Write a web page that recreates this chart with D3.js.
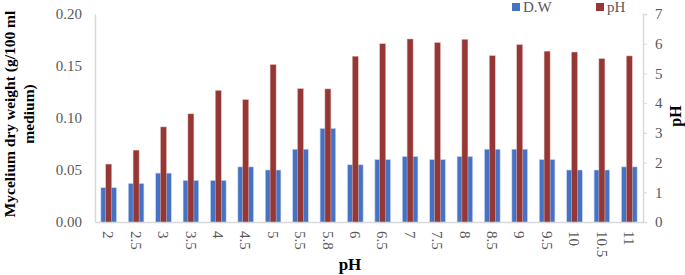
<!DOCTYPE html>
<html>
<head>
  <meta charset="utf-8">
  <title>Mycelium dry weight vs pH</title>
  <script src="https://d3js.org/d3.v7.min.js"></script>
  <style>
    body { margin: 0; background: #fff; }
    svg text { font-family: "Liberation Serif", "Times New Roman", serif; }
  </style>
</head>
<body>
  <div id="chart"></div>

  <script>
    // categories (initial pH of medium)
    var phLevels = ['2', '2.5', '3', '3.5', '4', '4.5', '5', '5.5', '5.8', '6',
                    '6.5', '7', '7.5', '8', '8.5', '9', '9.5', '10', '10.5', '11'];
    // mycelium dry weight, g/100 ml (left axis)
    var dryWeight = [0.033, 0.037, 0.047, 0.040, 0.040, 0.053, 0.050, 0.070, 0.090, 0.055,
                     0.060, 0.063, 0.060, 0.063, 0.070, 0.070, 0.060, 0.050, 0.050, 0.053];
    // final pH (right axis)
    var finalPh = [1.95, 2.42, 3.20, 3.64, 4.43, 4.12, 5.30, 4.49, 4.48, 5.58,
                   6.00, 6.16, 6.04, 6.15, 5.60, 5.97, 5.75, 5.72, 5.50, 5.59];
    var leftTicks = [0, 0.05, 0.10, 0.15, 0.20];
    var rightTicks = [0, 1, 2, 3, 4, 5, 6, 7];

    var width = 685, height = 275;
    var margin = { top: 14, right: 42, bottom: 53, left: 95 };

    var svg = d3.select('#chart').append('svg')
      .attr('width', width)
      .attr('height', height);

    var x = d3.scaleBand()
      .domain(phLevels)
      .range([margin.left, width - margin.right])
      .padding(0);

    var yLeft = d3.scaleLinear()
      .domain([0, 0.20])
      .range([height - margin.bottom, margin.top]);

    var yRight = d3.scaleLinear()
      .domain([0, 7])
      .range([height - margin.bottom, margin.top]);

    var blueW = x.bandwidth() * 0.57;
    var redW = x.bandwidth() * 0.22;

    // left axis
    var gLeft = svg.append('g')
      .attr('transform', 'translate(' + margin.left + ',0)')
      .call(d3.axisLeft(yLeft).tickValues(leftTicks).tickFormat(d3.format('.2f')).tickSize(0).tickPadding(13));

    // right axis
    var gRight = svg.append('g')
      .attr('transform', 'translate(' + (width - margin.right) + ',0)')
      .call(d3.axisRight(yRight).tickValues(rightTicks).tickFormat(d3.format('d')).tickSize(4).tickPadding(8));

    // bottom axis
    var gBottom = svg.append('g')
      .attr('transform', 'translate(0,' + (height - margin.bottom) + ')')
      .call(d3.axisBottom(x).tickSize(0));

    gBottom.selectAll('text')
      .attr('transform', 'rotate(90)')
      .attr('x', 9)
      .attr('y', 0)
      .attr('dy', '0.35em')
      .style('text-anchor', 'start');

    [gLeft, gRight, gBottom].forEach(function (g) {
      g.attr('font-family', 'Liberation Serif').attr('font-size', 15);
      g.select('.domain').attr('stroke', '#d9d9d9').attr('stroke-width', 1.5);
      g.selectAll('.tick line').attr('stroke', '#d9d9d9');
      g.selectAll('text').attr('fill', '#595959');
    });

    // bars: dry weight (primary)
    svg.append('g').selectAll('rect')
      .data(dryWeight)
      .enter()
      .append('rect')
        .attr('x', function (d, i) { return x(phLevels[i]) + (x.bandwidth() - blueW) / 2; })
        .attr('y', function (d) { return yLeft(d); })
        .attr('width', blueW)
        .attr('height', function (d) { return yLeft(0) - yLeft(d); })
        .attr('fill', '#4472c4')
        .attr('stroke', '#c6d4ef')
        .attr('stroke-width', 0.6);

    // bars: final pH (secondary)
    svg.append('g').selectAll('rect')
      .data(finalPh)
      .enter()
      .append('rect')
        .attr('x', function (d, i) { return x(phLevels[i]) + (x.bandwidth() - redW) / 2; })
        .attr('y', function (d) { return yRight(d); })
        .attr('width', redW)
        .attr('height', function (d) { return yRight(0) - yRight(d); })
        .attr('fill', '#953735')
        .attr('stroke', '#e6c4c3')
        .attr('stroke-width', 0.5);

    // axis titles
    var leftTitle = svg.append('text')
      .attr('transform', 'translate(15,114) rotate(-90)')
      .attr('text-anchor', 'middle')
      .style('font-size', '15.5px')
      .style('font-weight', 'bold');
    leftTitle.append('tspan').attr('x', 0).attr('dy', 0).text('Mycelium dry weight (g/100 ml');
    leftTitle.append('tspan').attr('x', 0).attr('dy', 19).text('medium)');

    svg.append('text')
      .attr('transform', 'translate(681,116) rotate(-90)')
      .attr('text-anchor', 'middle')
      .style('font-size', '16px')
      .style('font-weight', 'bold')
      .text('pH');

    svg.append('text')
      .attr('x', 350)
      .attr('y', 270)
      .attr('text-anchor', 'middle')
      .style('font-size', '17px')
      .style('font-weight', 'bold')
      .text('pH');

    // legend
    var legendItems = [
      { name: 'D.W', color: '#4472c4', x: 512 },
      { name: 'pH', color: '#953735', x: 596 }
    ];
    var legend = svg.append('g').selectAll('g')
      .data(legendItems)
      .enter()
      .append('g')
        .attr('transform', function (d) { return 'translate(' + d.x + ',0)'; });
    legend.append('rect')
      .attr('x', 0).attr('y', 3)
      .attr('width', 8).attr('height', 8)
      .attr('fill', function (d) { return d.color; });
    legend.append('text')
      .attr('x', 11).attr('y', 12)
      .attr('fill', '#595959')
      .style('font-size', '15px')
      .text(function (d) { return d.name; });
  </script>
</body>
</html>
